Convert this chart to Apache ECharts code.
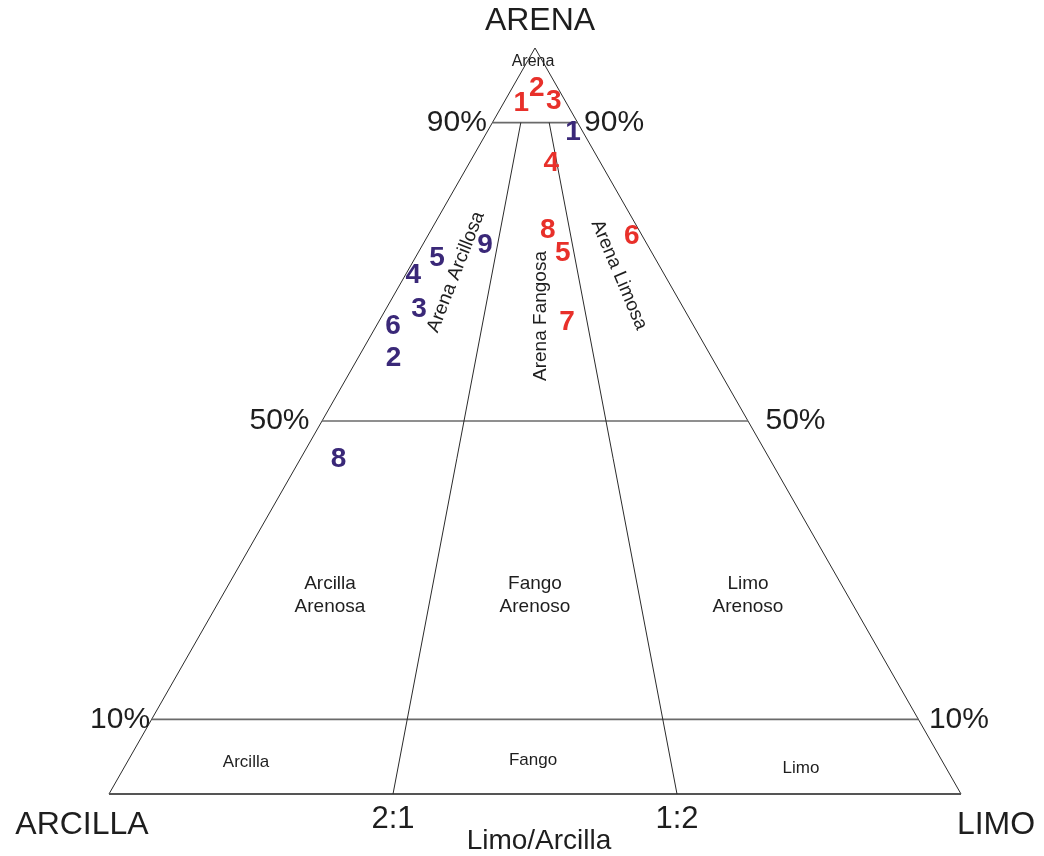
<!DOCTYPE html>
<html>
<head>
<meta charset="utf-8">
<title>Clasificación textural</title>
<script src="https://cdn.jsdelivr.net/npm/echarts@6/dist/echarts.min.js"></script>
<style>
  html, body { margin: 0; padding: 0; background: #fff; }
  #chart { width: 1044px; height: 856px; }
</style>
</head>
<body>
<div id="chart"></div>
<script>
// Sand levels (%) that split the diagram horizontally, with their labels
const SAND_LEVELS = [10, 50, 90];
const SAND_LABELS = ['10%', '50%', '90%'];

// Silt share of the mud fraction (%) for the two ratio boundaries
const MUD_SPLITS = [100 / 3, 200 / 3];
const MUD_LABELS = ['2:1', '1:2'];

// Corner names
const CORNER_SAND = 'ARENA';
const CORNER_CLAY = 'ARCILLA';
const CORNER_SILT = 'LIMO';
const RATIO_TITLE = 'Limo/Arcilla';

// Group A samples (red): sand, silt, clay in %
const redIds   = ['1', '2', '3', '4', '5', '6', '7', '8'];
const redSand  = [92.6, 94.6, 92.8, 84.6, 72.5, 74.7, 63.3, 75.6];
const redSilt  = [ 2.1,  2.9,  5.8,  9.6, 17.0, 24.0, 22.1, 13.7];
const redClay  = [ 5.3,  2.5,  1.4,  5.8, 10.5,  1.3, 14.6, 10.7];

// Group B samples (purple): sand, silt, clay in %
const blueIds  = ['1', '2', '3', '4', '5', '6', '8', '9'];
const blueSand = [88.7, 58.4, 65.0, 69.6, 71.8, 62.7, 44.9, 73.5];
const blueSilt = [10.1,  4.2,  3.9,  0.9,  2.6,  2.0,  4.5,  7.4];
const blueClay = [ 1.2, 37.4, 31.1, 29.5, 25.6, 35.3, 50.6, 19.1];

// Ternary (sand, silt, clay) -> cartesian (x, y) on a 0..100 grid
function toXY(sand, silt, clay) {
  const t = sand + silt + clay;
  const s = sand / t * 100, l = silt / t * 100;
  return [l + s / 2, s];
}

const RED = '#e8302a';
const PURPLE = '#3a2878';
const FONT = '"Liberation Sans", Arial, Helvetica, sans-serif';
const HIDDEN = { color: 'rgba(0,0,0,0)', opacity: 1 };

function lineSeries(points, color, width) {
  return {
    type: 'line', data: points, symbol: 'none', silent: true,
    lineStyle: { color: color, width: width }, animation: false, z: 2
  };
}

const series = [];

// Triangle sides
series.push(lineSeries([toXY(0, 0, 100), toXY(100, 0, 0), toXY(0, 100, 0)], '#2b2b2b', 1));
// Base
series.push(lineSeries([toXY(0, 0, 100), toXY(0, 100, 0)], '#555', 2));

// Horizontal sand boundaries
SAND_LEVELS.forEach(function (s) {
  series.push(lineSeries([toXY(s, 0, 100 - s), toXY(s, 100 - s, 0)], '#6a6a6a', 1.6));
});

// Silt/clay ratio boundaries, from the base up to the 90% sand line
const topSand = SAND_LEVELS[SAND_LEVELS.length - 1];
MUD_SPLITS.forEach(function (r) {
  const m = 100 - topSand;
  series.push(lineSeries([toXY(0, r, 100 - r), toXY(topSand, m * r / 100, m * (1 - r / 100))], '#2b2b2b', 1));
});

// Sand percentage labels on both sides
const sideGap = { 10: [1, 10], 50: [12, 17], 90: [5, 6] };
series.push({
  type: 'scatter', symbolSize: 1, silent: true, animation: false,
  itemStyle: HIDDEN,
  data: SAND_LEVELS.map(function (s, i) {
    return { name: SAND_LABELS[i], value: toXY(s, 0, 100 - s),
      label: { position: 'left', distance: sideGap[s][0] } };
  }).concat(SAND_LEVELS.map(function (s, i) {
    return { name: SAND_LABELS[i], value: toXY(s, 100 - s, 0),
      label: { position: 'right', distance: sideGap[s][1] } };
  })),
  label: { show: true, formatter: '{b}', fontSize: 30, color: '#1e1e1e', fontFamily: FONT }
});

// Ratio tick labels under the base
series.push({
  type: 'scatter', symbolSize: 1, silent: true, animation: false,
  itemStyle: HIDDEN,
  data: MUD_SPLITS.map(function (r, i) {
    return { name: MUD_LABELS[i], value: toXY(0, r, 100 - r) };
  }),
  label: { show: true, formatter: '{b}', position: 'bottom', distance: 9,
    fontSize: 31, color: '#1e1e1e', fontFamily: FONT }
});

// Sample labels
function sampleSeries(ids, sand, silt, clay, color) {
  return {
    type: 'scatter', symbolSize: 1, animation: false, z: 5,
    itemStyle: HIDDEN,
    data: ids.map(function (id, i) {
      return { name: id, value: toXY(sand[i], silt[i], clay[i]) };
    }),
    label: { show: true, formatter: '{b}', position: 'inside',
      fontSize: 28, fontWeight: 'bold', color: color, fontFamily: FONT }
  };
}
series.push(sampleSeries(redIds, redSand, redSilt, redClay, RED));
series.push(sampleSeries(blueIds, blueSand, blueSilt, blueClay, PURPLE));

function txt(text, x, y, size, rot) {
  return {
    type: 'text', x: x, y: y, rotation: (rot || 0) * Math.PI / 180, silent: true,
    style: { text: text, font: size + 'px ' + FONT, fill: '#1e1e1e',
      textAlign: 'center', textVerticalAlign: 'middle', lineHeight: Math.round(size * 1.2) }
  };
}

const graphics = [
  txt(CORNER_SAND, 540, 21, 32),
  txt(CORNER_CLAY, 82, 825, 32),
  txt(CORNER_SILT, 996, 825, 32),
  txt(RATIO_TITLE, 539, 841, 28),
  txt('Arena', 533, 62, 16),
  txt('Arena Arcillosa', 456, 272, 19, 68.6),
  txt('Arena Fangosa', 541, 316, 19, 90),
  txt('Arena Limosa', 619, 275, 19, -67),
  txt('Arcilla\nArenosa', 330, 595, 19),
  txt('Fango\nArenoso', 535, 595, 19),
  txt('Limo\nArenoso', 748, 595, 19),
  txt('Arcilla', 246, 762, 17),
  txt('Fango', 533, 760, 17),
  txt('Limo', 801, 768, 17)
];

const chart = echarts.init(document.getElementById('chart'), null, { renderer: 'canvas' });
chart.setOption({
  animation: false,
  backgroundColor: '#fff',
  grid: { left: 109, right: 83, top: 48, bottom: 62 },
  xAxis: { type: 'value', min: 0, max: 100, show: false },
  yAxis: { type: 'value', min: 0, max: 100, show: false },
  series: series,
  graphic: graphics
});
</script>
</body>
</html>
